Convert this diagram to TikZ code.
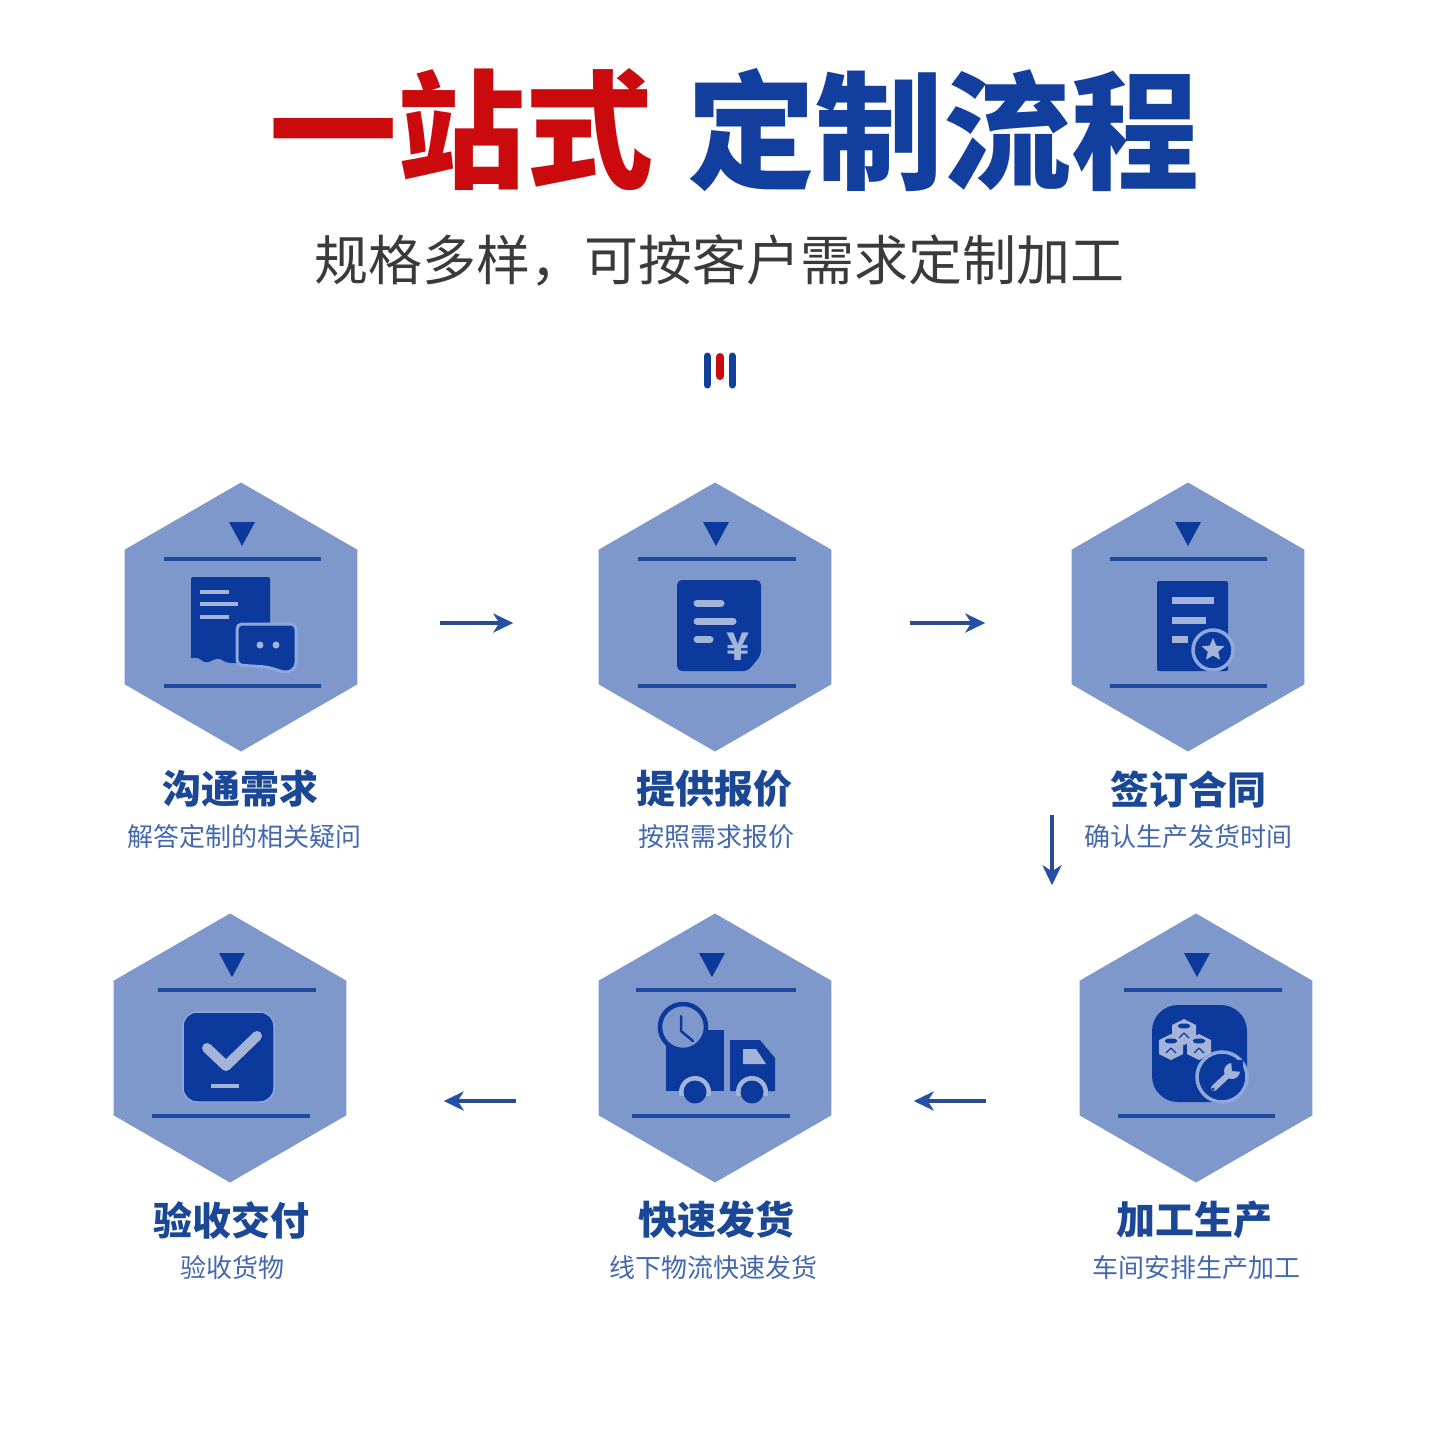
\documentclass[tikz,border=0pt]{standalone}
\usepackage{fontspec}
\usetikzlibrary{arrows.meta,shapes.geometric}
\newfontfamily\cjk{Noto Sans CJK SC}
\definecolor{hexc}{HTML}{7F98CC}
\definecolor{deep}{HTML}{0B3A9C}
\definecolor{rule}{HTML}{1D4A9E}
\definecolor{lite}{HTML}{A3B4D8}
\definecolor{ring}{HTML}{8FA8DC}
\definecolor{arrowc}{HTML}{2B4A90}
\definecolor{arrowh}{HTML}{2450A8}
\definecolor{titleblue}{HTML}{123F9E}
\definecolor{titlered}{HTML}{CB0A0E}
\definecolor{subc}{HTML}{3A3A3A}
\definecolor{headc}{HTML}{1B4797}
\definecolor{notec}{HTML}{4468AE}
\tikzset{
  hexnode/.style={regular polygon,regular polygon sides=6,shape border rotate=30,fill=hexc,draw=none,minimum size=269pt,inner sep=0pt},
  bigtitle/.style={inner sep=0pt,font=\cjk\bfseries\fontsize{128}{128}\selectfont},
  subtitle/.style={inner sep=0pt,text=subc,font=\cjk\fontsize{54}{54}\selectfont},
  stephead/.style={inner sep=0pt,text=headc,font=\cjk\bfseries\fontsize{39}{39}\selectfont},
  stepnote/.style={inner sep=0pt,text=notec,font=\cjk\fontsize{26}{26}\selectfont},
  hexrule/.style={draw=rule,line width=3.6pt},
  flow/.style={draw=arrowc,line width=3.4pt,-{Stealth[length=20pt,width=19pt,inset=6pt,color=arrowh]}},
  litebar/.style={draw=lite,line width=4pt,line cap=round},
  iconedge/.style={draw=ring,line width=2.5pt},
}
\begin{document}
\begin{tikzpicture}[x=1pt,y=-1pt]
\useasboundingbox (0,0) rectangle (1440,1440);
\fill[white] (0,0) rectangle (1440,1440);
% titles
\node[bigtitle,text=titlered] (title1) at (461,130) {一站式};
\node[bigtitle,text=titleblue] (title2) at (943,130) {定制流程};
\node[subtitle] (subt) at (719,260) {规格多样，可按客户需求定制加工};
% mark
\draw[titleblue,line width=7pt,line cap=round] (707,356) -- (707,385);
\draw[titlered,line width=8pt,line cap=round] (720,357) -- (720,376);
\draw[titleblue,line width=7pt,line cap=round] (732,356) -- (732,385);
% hexagons
\node[hexnode] (h1) at (241,617) {};
\node[hexnode] (h2) at (715,617) {};
\node[hexnode] (h3) at (1188,617) {};
\node[hexnode] (h4) at (1196,1048) {};
\node[hexnode] (h5) at (715,1048) {};
\node[hexnode] (h6) at (230,1048) {};
% rules
\draw[hexrule] (164,559) -- (321,559);  \draw[hexrule] (164,686) -- (321,686);
\draw[hexrule] (638,559) -- (796,559);  \draw[hexrule] (638,686) -- (796,686);
\draw[hexrule] (1110,559) -- (1267,559);\draw[hexrule] (1110,686) -- (1267,686);
\draw[hexrule] (1124,990) -- (1282,990);\draw[hexrule] (1118,1116) -- (1275,1116);
\draw[hexrule] (636,990) -- (796,990);  \draw[hexrule] (632,1116) -- (790,1116);
\draw[hexrule] (158,990) -- (316,990);  \draw[hexrule] (152,1116) -- (310,1116);
% triangles
\foreach \tx/\ty in {242/522,716/522,1188/522,1197/953,712/953,232/953}
  \fill[deep] ({\tx-13},\ty) -- ({\tx+13},\ty) -- (\tx,{\ty+24}) -- cycle;
% icon 1
\fill[deep,rounded corners=2pt] (191,577) -- (270,577) -- (270,640) -- (238,663) -- (228,663) -- (218,658) -- (206,663) -- (198,658) -- (191,655) -- cycle;
\fill[deep] (191,640) rectangle (238,658);
\draw[litebar,line width=4.5pt,line cap=butt] (200,592) -- (229,592);
\draw[litebar,line width=4.5pt,line cap=butt] (200,604) -- (238,604);
\draw[litebar,line width=4.5pt,line cap=butt] (200,617) -- (229,617);
\draw[iconedge,fill=deep,rounded corners=5pt,line width=3pt] (237,624) -- (296,624) -- (296,668) -- (287,673) -- (267,667) -- (237,665) -- cycle;
\fill[lite] (260,645) circle (3.5pt) (276,645) circle (3.5pt);
% icon 2
\fill[deep,rounded corners=5pt] (677,580) -- (761,580) -- (761,655) -- (748,671) -- (677,671) -- cycle;
\draw[litebar,line width=7pt] (697,603) -- (721,603);
\draw[litebar,line width=7pt] (697,621) -- (733,621);
\draw[litebar,line width=7pt] (697,639) -- (710,639);
\node[inner sep=0pt,text=lite,font=\cjk\bfseries\fontsize{38}{38}\selectfont] (yen) at (738,647) {¥};
% icon 3
\fill[deep,rounded corners=2pt] (1157,581) rectangle (1228,671);
\draw[litebar,line width=7pt,line cap=butt] (1172,600) -- (1214,600);
\draw[litebar,line width=7pt,line cap=butt] (1172,620) -- (1206,620);
\draw[litebar,line width=7pt,line cap=butt] (1172,639) -- (1188,639);
\draw[iconedge,fill=deep,line width=3.5pt] (1213,650) circle (20pt);
\node[star,star points=5,star point ratio=2.2,fill=lite,minimum size=24pt,inner sep=0pt] (star) at (1213,650) {};
% icon 4
\fill[deep,rounded corners=26pt] (1152,1005) rectangle (1247,1102);
\foreach \cx/\cy in {1184/1032,1171/1047,1199/1047}{
  \fill[lite] (\cx,{\cy-13}) -- ++(12,6) -- ++(0,14) -- ++(-12,6) -- ++(-12,-6) -- ++(0,-14) -- cycle;
  \fill[deep] (\cx,{\cy-6}) ellipse (6.5pt and 2.5pt);
  \draw[deep,line width=1.2pt] (\cx,{\cy+1}) -- ++(-5,5) (\cx,{\cy+1}) -- ++(5,5);
}
\draw[iconedge,fill=deep,line width=3.5pt] (1222,1077) circle (25pt);
\draw[lite,line width=6pt,line cap=round] (1214,1088) -- (1229,1074);
\fill[lite] (1232,1071) circle (8pt);
\fill[deep] (1232,1071) -- (1231,1060) -- (1243,1060) -- (1243,1072) -- cycle;
\fill[deep] (1213,1089) circle (1.5pt);
% icon 5
\fill[deep] (666,1030) rectangle (724,1091);
\fill[deep] (730,1040) -- (760,1040) -- (775,1058) -- (775,1091) -- (730,1091) -- cycle;
\fill[lite] (743,1049) -- (756,1049) -- (766,1064) -- (743,1064) -- cycle;
\draw[deep,fill=hexc,line width=4.5pt] (683,1027) circle (23pt);
\draw[deep,line width=2.5pt,line cap=round] (681,1016) -- (681,1031) -- (693,1041);
\foreach \wx in {695,752}{
  \fill[lite] (\wx,1092) circle (16pt);
}
\fill[hexc] (676,1096) rectangle (714,1110);
\fill[hexc] (733,1096) rectangle (771,1110);
\fill[deep] (695,1092) circle (11.5pt) (752,1092) circle (11.5pt);
% icon 6
\draw[iconedge,fill=deep,rounded corners=14pt,line width=1.5pt] (183,1012) rectangle (274,1102);
\draw[lite,line width=10pt,line cap=round,line join=round] (207,1048) -- (226,1066) -- (257,1036);
\draw[lite,line width=4.5pt] (211,1086) -- (239,1086);
% labels
\node[stephead] (t1) at (240,789) {沟通需求};
\node[stepnote] (s1) at (244,837) {解答定制的相关疑问};
\node[stephead] (t2) at (714,789) {提供报价};
\node[stepnote] (s2) at (716,837) {按照需求报价};
\node[stephead] (t3) at (1188,789) {签订合同};
\node[stepnote] (s3) at (1188,837) {确认生产发货时间};
\node[stephead] (t4) at (1194,1220) {加工生产};
\node[stepnote] (s4) at (1196,1268) {车间安排生产加工};
\node[stephead] (t5) at (716,1220) {快速发货};
\node[stepnote] (s5) at (713,1268) {线下物流快速发货};
\node[stephead] (t6) at (231,1220) {验收交付};
\node[stepnote] (s6) at (232,1268) {验收货物};
% connectors
\draw[flow,shorten <=82pt,shorten >=85pt] ([yshift=-6pt]h1.east) -- ([yshift=-6pt]h2.west);
\draw[flow,shorten <=78pt,shorten >=86pt] ([yshift=-6pt]h2.east) -- ([yshift=-6pt]h3.west);
\draw[flow,shorten <=63pt,shorten >=28pt] ([xshift=-136pt]h3.south) -- ([xshift=-144pt]h4.north);
\draw[flow,shorten <=93pt,shorten >=82pt] ([yshift=-53pt]h4.west) -- ([yshift=-53pt]h5.east);
\draw[flow,shorten <=82pt,shorten >=97pt] ([yshift=-53pt]h5.west) -- ([yshift=-53pt]h6.east);
\end{tikzpicture}
\end{document}
